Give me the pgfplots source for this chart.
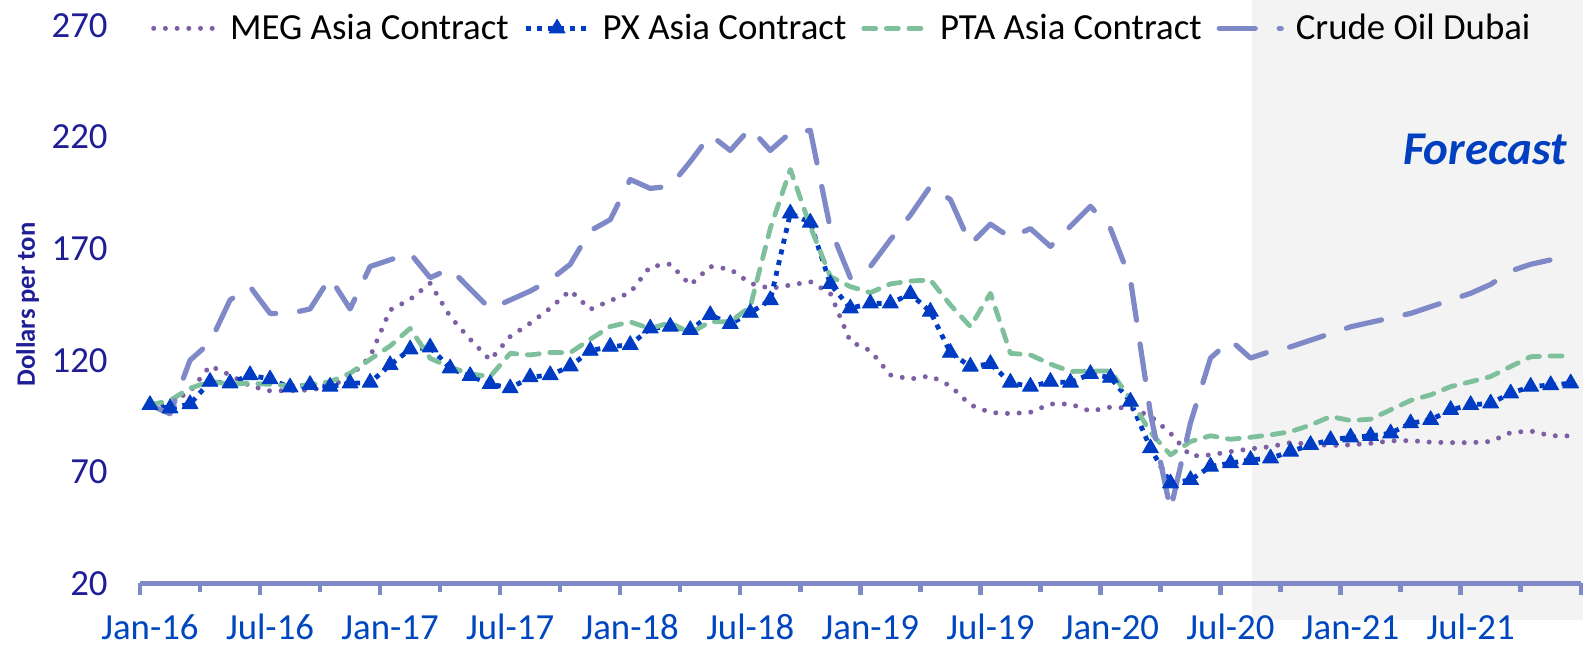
\documentclass[border=0pt]{standalone}
\usepackage{fontspec}
\setmainfont{Carlito}
\usepackage{pgfplots}
\pgfplotsset{compat=1.18}
\definecolor{megC}{RGB}{125,95,165}
\definecolor{pxC}{RGB}{0,60,195}
\definecolor{ptaC}{RGB}{126,192,155}
\definecolor{crudeC}{RGB}{128,137,200}
\definecolor{ytickC}{RGB}{32,30,150}
\definecolor{xtickC}{RGB}{0,70,190}
\definecolor{fcC}{RGB}{0,64,192}
\definecolor{shadeC}{RGB}{243,243,243}
\begin{document}
\begin{tikzpicture}
\begin{axis}[
  width=720.4pt, height=279pt, scale only axis,
  xmin=-0.5, xmax=71.5, ymin=20, ymax=270,
  clip=false, axis on top,
  axis x line*=bottom, axis y line*=left,
  y axis line style={draw=none},
  x axis line style={draw=crudeC, line width=2.2pt, -},
  tick align=outside,
  xtick={-0.5,5.5,...,71.5}, xticklabels={},
  minor xtick={2.5,8.5,...,68.5},
  major tick length=6pt, minor tick length=4.5pt,
  xtick style={draw=crudeC, line width=2.2pt},
  ytick style={draw=none},
  extra x ticks={0,6,...,66},
  extra x tick labels={Jan-16,Jul-16,Jan-17,Jul-17,Jan-18,Jul-18,Jan-19,Jul-19,Jan-20,Jul-20,Jan-21,Jul-21},
  extra x tick style={major tick length=0pt},
  xticklabel style={font=\fontsize{18.4}{22}\selectfont, text=xtickC, anchor=base, yshift=-28pt, inner sep=0pt},
  ytick={20,70,120,170,220,270},
  yticklabels={20,70,120,170,220,270},
  yticklabel style={font=\fontsize{18.4}{22}\selectfont, text=ytickC, anchor=east, inner sep=0pt, xshift=-10pt},
  legend columns=4,
  legend style={at={(axis description cs:0.0075,0.9948)}, anchor=west, draw=none, fill=none,
    font=\fontsize{18.4}{22}\selectfont, inner sep=0pt, column sep=0pt, nodes={inner sep=0pt},
    /tikz/every odd column/.append style={column sep=6pt},
    /tikz/every even column/.append style={column sep=7.5pt}},
  legend image code/.code={\draw[mark repeat=2,mark phase=2,#1] plot coordinates {(0pt,0pt) (15.5pt,0pt) (31pt,0pt)};},
]
\fill[shadeC] (axis cs:55.07,3.6) rectangle (axis cs:71.7,281.5);
\coordinate (BL) at (axis cs:-7.496,-8.0);
\coordinate (TR) at (axis cs:71.615,281.42);

\addplot[megC, line width=2.5pt, line cap=round, line join=round, dash pattern=on 0pt off 5.85pt] coordinates {
(0,100) (1,101) (2,106) (3,117.5) (4,113.4) (5,108.5) (6,106.3) (7,106.4) (8,106.7) (9,108.2)
(10,112.7) (11,121.6) (12,142.5) (13,147.3) (14,154.5) (15,139.6) (16,129.4) (17,120.1) (18,130.6) (19,136.6)
(20,143.3) (21,151.3) (22,142.8) (23,146.7) (24,150.3) (25,162) (26,163.1) (27,153.7) (28,162) (29,160.8)
(30,154.5) (31,152.2) (32,153.7) (33,155.2) (34,150) (35,128.4) (36,124.3) (37,113.4) (38,111.6) (39,113)
(40,108.5) (41,100) (42,96.6) (43,96.1) (44,96.7) (45,100.4) (46,100.4) (47,97.2) (48,99) (49,98.5)
(50,95) (51,87.3) (52,77.1) (53,77.6) (54,79.1) (55,80.3) (56,81.3) (57,83.1) (58,82.4) (59,81.8)
(60,82.1) (61,82.8) (62,83.9) (63,84) (64,83.3) (65,83.1) (66,83.1) (67,83.6) (68,87.6) (69,88.3)
(70,86.2) (71,86.1)};
\addlegendentry{MEG Asia Contract}

\addplot[pxC, line width=2.4pt, line join=round, dash pattern=on 2.5pt off 3pt, mark=triangle*, mark size=4.6pt, mark options={solid, fill=pxC, draw=pxC, line width=0.4pt}] coordinates {
(0,100) (1,98.5) (2,100.4) (3,110.4) (4,109.7) (5,113.4) (6,111.5) (7,107.9) (8,109) (9,108.2)
(10,109.7) (11,110) (12,117.9) (13,124.9) (14,125.8) (15,116.4) (16,113) (17,109.4) (18,107.5) (19,112.4)
(20,113.4) (21,117.3) (22,124.3) (23,126.1) (24,126.9) (25,134.3) (26,135.1) (27,133.6) (28,140.3) (29,136.3)
(30,141.3) (31,147) (32,185.8) (33,181.7) (34,154.2) (35,143.3) (36,145.5) (37,145.5) (38,149.7) (39,141.8)
(40,123.4) (41,117.2) (42,118.4) (43,110) (44,108.2) (45,110.4) (46,110) (47,113.9) (48,112.2) (49,101.5)
(50,80.6) (51,64.9) (52,66.4) (53,72.4) (54,73.9) (55,75.4) (56,76.1) (57,79.1) (58,82.1) (59,84.3)
(60,85.5) (61,86.1) (62,87.3) (63,91.8) (64,93.3) (65,97.8) (66,100) (67,100.7) (68,105.2) (69,108.2)
(70,108.9) (71,109.7)};
\addlegendentry{PX Asia Contract}

\addplot[ptaC, line width=2.4pt, line cap=round, line join=round, dash pattern=on 6pt off 5.3pt] coordinates {
(0,100) (1,102) (2,107.5) (3,110.4) (4,109.4) (5,109.7) (6,109.2) (7,108.5) (8,109) (9,110.4)
(10,114.2) (11,120.4) (12,126.4) (13,134.3) (14,120.9) (15,116.9) (16,113.9) (17,112.7) (18,123.1) (19,122.4)
(20,123.5) (21,123.4) (22,129.4) (23,135.1) (24,137.2) (25,134.2) (26,136.9) (27,132.1) (28,137.3) (29,137.3)
(30,144) (31,179.1) (32,205.5) (33,179.9) (34,157.5) (35,153) (36,150.3) (37,154.2) (38,155.5) (39,156)
(40,144.8) (41,135.1) (42,150) (43,123.1) (44,122.4) (45,118.3) (46,115) (47,115.2) (48,115.2) (49,102.6)
(50,87.7) (51,77.6) (52,83.6) (53,86.2) (54,84.6) (55,85.5) (56,86.6) (57,88) (58,91) (59,94.8)
(60,93) (61,93.6) (62,97.8) (63,102) (64,104.5) (65,108.2) (66,110.4) (67,112.7) (68,117.2) (69,121.6)
(70,121.9) (71,121.9)};
\addlegendentry{PTA Asia Contract}

\addplot[crudeC, line width=2.6pt, line cap=round, line join=round, dash pattern=on 18pt off 12pt] coordinates {
(0,100) (1,96) (2,120) (3,128) (4,147) (5,153) (6,141) (7,141) (8,143) (9,157)
(10,143) (11,162) (12,165) (13,168) (14,157) (15,161) (16,152) (17,143) (18,147) (19,151)
(20,156) (21,163) (22,178) (23,183) (24,201) (25,197) (26,198) (27,209) (28,221) (29,214)
(30,224) (31,214) (32,222) (33,223) (34,179) (35,157) (36,162) (37,174) (38,185) (39,198)
(40,192) (41,172) (42,181) (43,175) (44,179) (45,171) (46,180) (47,189) (48,179) (49,156)
(50,96) (51,53) (52,92) (53,121) (54,129) (55,121) (56,124) (57,126) (58,129) (59,132)
(60,135) (61,137) (62,139) (63,141) (64,144) (65,147) (66,150) (67,154) (68,160) (69,163)
(70,165) (71,164.5)};
\addlegendentry{Crude Oil Dubai}

\node[anchor=base east, inner sep=0pt, text=fcC, font=\fontsize{23.5}{28}\selectfont\bfseries\itshape] at (axis cs:70.8,207.5) {Forecast};
\node[rotate=90, inner sep=0pt, text=ytickC, font=\fontsize{13.3}{16}\selectfont\bfseries] at (axis cs:-6.12,145) {Dollars per ton};
\end{axis}
\pgfresetboundingbox
\useasboundingbox (BL) rectangle (TR);
\end{tikzpicture}
\end{document}
